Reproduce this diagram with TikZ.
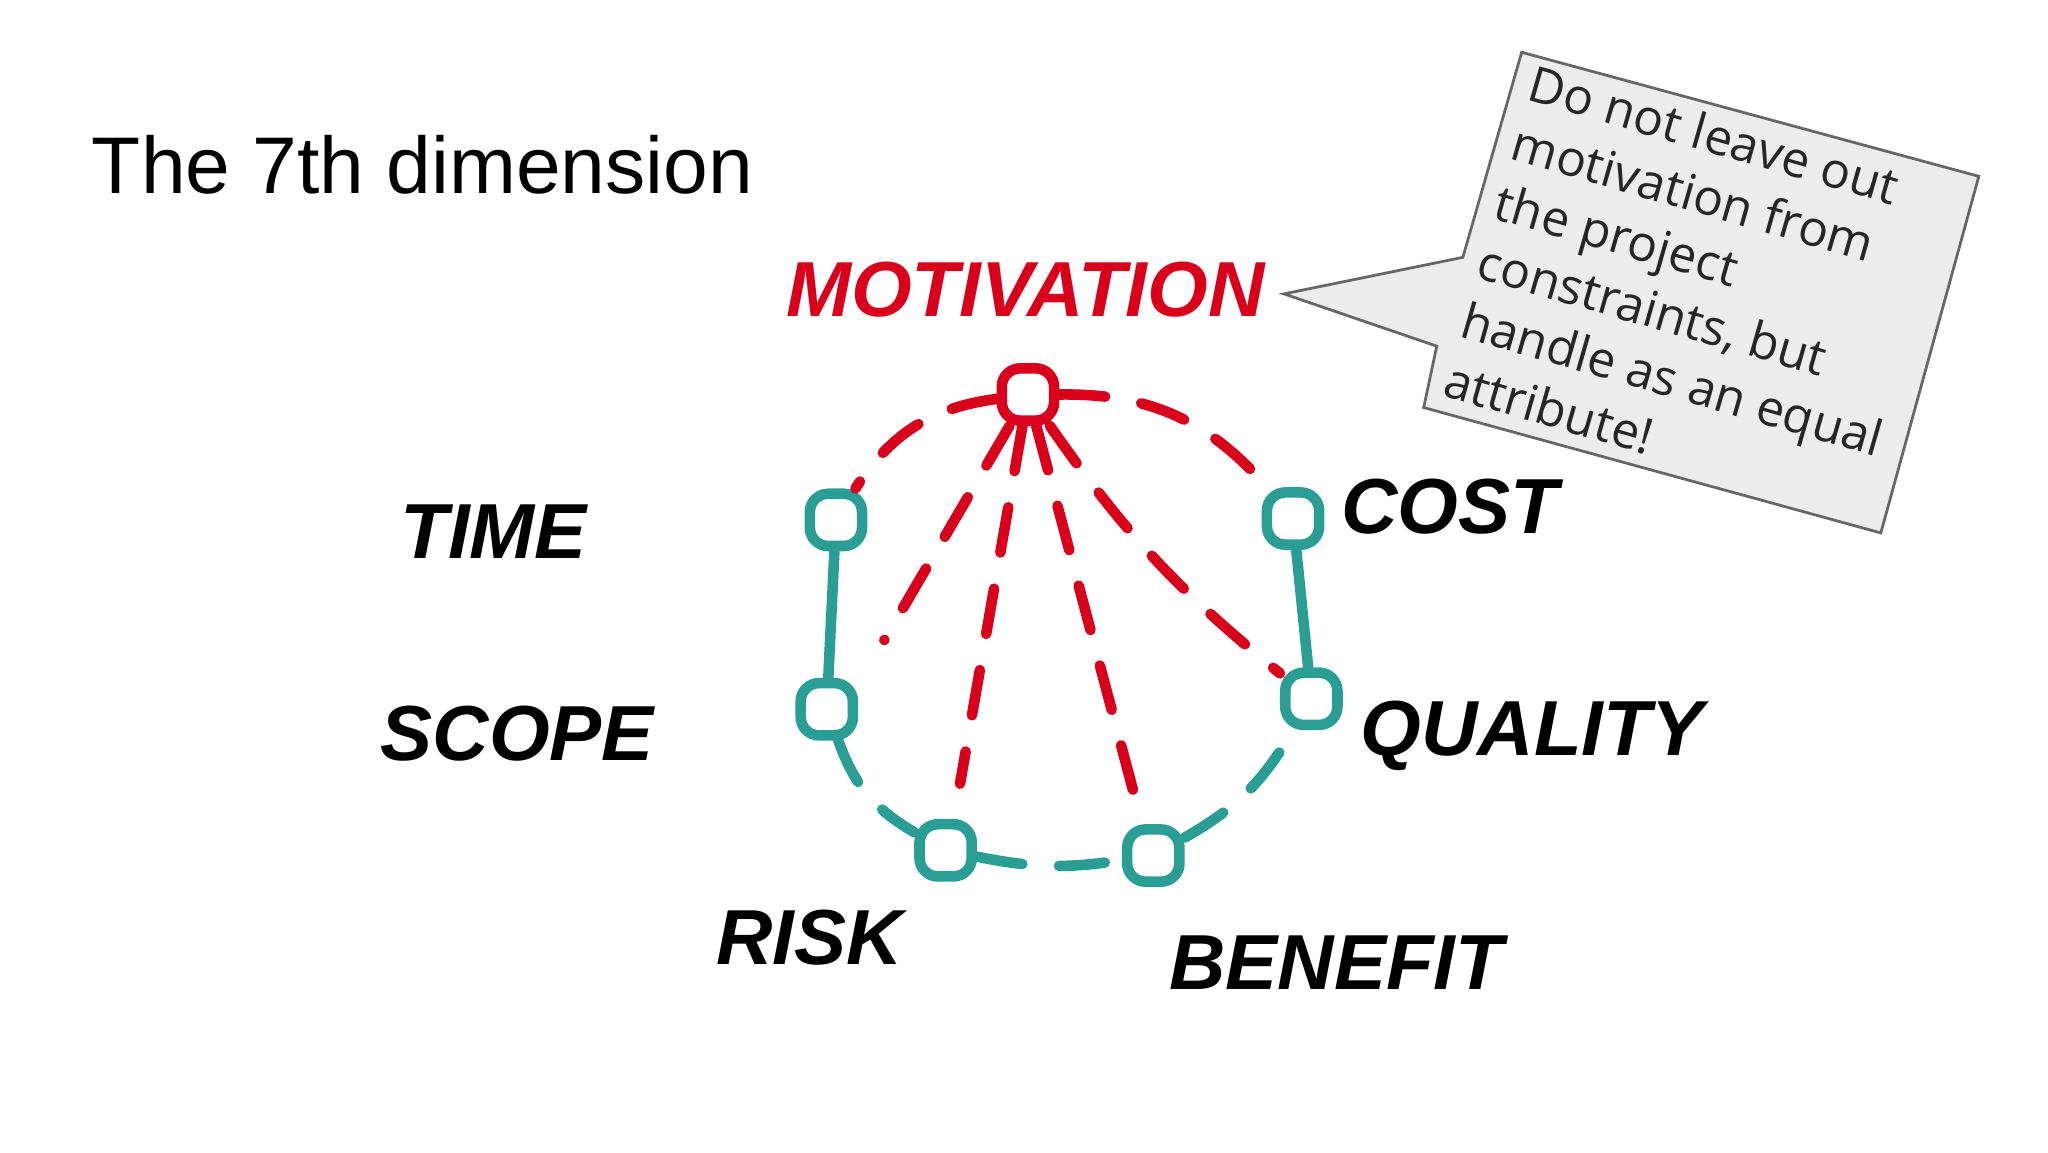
\documentclass[tikz,border=0pt]{standalone}
\usepackage{fontspec}
\setmainfont{Liberation Sans}
\newfontfamily\hand{Liberation Sans}
\newfontfamily\notefont{Open Sans}
\definecolor{teal2}{HTML}{2A9D95}
\definecolor{red2}{HTML}{D9001B}
\begin{document}
\begin{tikzpicture}[yscale=-1,
  dot/.style={draw=#1,line width=2.3pt,rounded corners=4pt,minimum size=0.40cm,inner sep=0pt},
  lab/.style={font=\hand\bfseries\itshape\fontsize{17}{17}\selectfont},
  tl/.style={draw=teal2,line width=2.3pt,line cap=round},
  rl/.style={draw=red2,line width=2.3pt,line cap=round,dash pattern=on 10pt off 8pt}]
\fill[white] (0,0) rectangle (15.68,8.82);
\node[anchor=base west,font=\fontsize{17.5}{20}\selectfont] (title) at (0.58,1.48) {The 7th dimension};
% callout
\draw[gray!80!black,fill=gray!15,line width=0.6pt] (11.65,0.40) -- (15.15,1.35) -- (14.40,4.08) -- (10.90,3.12) -- (11.00,2.65) -- (9.83,2.25) -- (11.20,1.97) -- cycle;
\node[rotate=-16,align=left,font=\notefont\fontsize{10.8}{13.4}\selectfont,text=black!85] (note) at (13.00,2.22) {Do not leave out\\motivation from\\the project\\constraints, but\\handle as an equal\\attribute!};
% labels
\node[lab,text=red2] (lmot) at (7.85,2.22) {MOTIVATION};
\node[lab] (ltime) at (3.78,4.07) {TIME};
\node[lab] (lcost) at (11.10,3.88) {COST};
\node[lab] (lscope) at (3.96,5.62) {SCOPE};
\node[lab] (lqual) at (11.73,5.63) {QUALITY};
\node[lab] (lrisk) at (6.20,7.18) {RISK};
\node[lab] (lben) at (10.23,7.37) {BENEFIT};
% nodes
\node[dot=red2] (mot) at (7.87,3.02) {};
\node[dot=teal2] (time) at (6.40,3.98) {};
\node[dot=teal2] (cost) at (9.90,3.97) {};
\node[dot=teal2] (scope) at (6.33,5.43) {};
\node[dot=teal2] (qual) at (10.04,5.35) {};
\node[dot=teal2] (risk) at (7.24,6.51) {};
\node[dot=teal2] (ben) at (8.83,6.55) {};
\coordinate (e1) at (6.77,4.90);
\coordinate (e2) at (7.35,6.00);
\coordinate (e3) at (8.68,6.07);
% connectors
\draw[tl] (time) -- (scope);
\draw[tl] (cost) -- (qual);
\draw[tl,dash pattern=on 10pt off 8pt] (scope) to[bend left=20] (risk);
\draw[tl,dash pattern=on 10pt off 8pt] (risk) to[bend left=10] (ben);
\draw[tl,dash pattern=on 10pt off 8pt] (ben) to[bend left=15] (qual);
\draw[rl] (mot) to[bend left=25] (time);
\draw[rl] (mot) to[bend right=25] (cost);
\draw[rl] (mot) -- (e1);
\draw[rl] (mot) -- (e2);
\draw[rl] (mot) -- (e3);
\draw[rl] (mot) to[bend left=8] (qual);
\end{tikzpicture}
\end{document}
